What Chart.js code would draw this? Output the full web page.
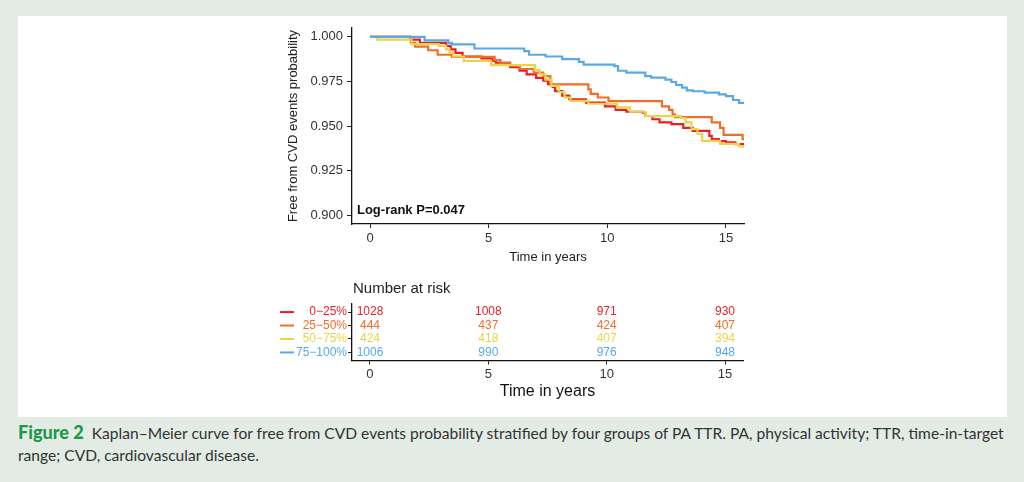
<!DOCTYPE html>
<html>
<head>
<meta charset="utf-8">
<script src="https://cdn.jsdelivr.net/npm/chart.js@4.4.1/dist/chart.umd.min.js"></script>
<style>
  html, body { margin: 0; padding: 0; }
  body { width: 1024px; height: 482px; background: #e3ece4; position: relative; overflow: hidden; }
  #panel { position: absolute; left: 18px; top: 16px; width: 989px; height: 401px; background: #fff; }
  #kmWrap { position: absolute; left: 280px; top: 20px; width: 470px; height: 250px; }
  #riskWrap { position: absolute; left: 270px; top: 278px; width: 480px; height: 128px; }
  #caption { position: absolute; left: 18px; top: 421px; width: 989px; font-family: Lato, "Open Sans", sans-serif; color: #333; font-size: 15px; }
  .line { white-space: nowrap; line-height: 22px; }
  .line span.inner { display: inline-block; }
  .fig { color: #1c9a4a; font-weight: 900; font-size: 1.16em; }
</style>
</head>
<body>
<div id="panel"></div>
<div id="kmWrap"><canvas id="km"></canvas></div>
<div id="riskWrap"><canvas id="risk"></canvas></div>
<div id="caption">
  <div class="line"><span class="inner" id="cap1"><span class="fig">Figure 2</span>&nbsp; Kaplan–Meier curve for free from CVD events probability stratified by four groups of PA TTR. PA, physical activity; TTR, time-in-target</span></div>
  <div class="line"><span class="inner">range; CVD, cardiovascular disease.</span></div>
</div>
<script>
// groups
const groupLabels = ['0−25%', '25−50%', '50−75%', '75−100%'];
const groupColors = ['#ee1d23', '#f36c2a', '#e6d64c', '#5ba9e2'];

// Kaplan-Meier steps (years, survival)
const timeQ1 = [0, 1.7, 2.1, 3.2, 3.4, 3.6, 3.9, 4.7, 5.15, 5.3, 5.9, 6.3, 6.6, 7.0, 7.3, 7.5, 7.7, 7.8, 8.1, 8.4, 9.1, 9.9, 10.35, 10.8, 11.5, 11.6, 11.9, 12.2, 12.7, 13.2, 13.6, 14.3, 14.4, 14.7, 15.0, 15.4, 15.8];
const survQ1 = [1.000, 0.9985, 0.9967, 0.995, 0.993, 0.991, 0.989, 0.988, 0.9865, 0.9855, 0.983, 0.981, 0.979, 0.977, 0.9755, 0.9735, 0.972, 0.9696, 0.967, 0.965, 0.9631, 0.961, 0.959, 0.958, 0.9575, 0.9556, 0.9538, 0.952, 0.9511, 0.949, 0.9473, 0.9445, 0.9426, 0.9415, 0.9408, 0.9398, 0.9388];

const timeQ2 = [0, 1.72, 1.9, 2.45, 2.85, 3.45, 5.25, 5.5, 5.9, 6.3, 6.9, 7.3, 7.6, 9.2, 9.3, 9.6, 10.05, 12.3, 12.6, 12.75, 12.85, 14.4, 14.75, 14.9, 15.7, 15.8];
const survQ2 = [1.000, 0.9966, 0.9945, 0.9925, 0.990, 0.9888, 0.987, 0.9855, 0.984, 0.982, 0.980, 0.978, 0.9734, 0.9706, 0.968, 0.966, 0.964, 0.961, 0.959, 0.9566, 0.955, 0.952, 0.949, 0.945, 0.9426, 0.9426];

const timeQ3 = [0, 0.3, 1.75, 2.9, 3.2, 3.35, 3.5, 3.95, 5.1, 6.95, 7.15, 7.4, 7.65, 7.95, 8.2, 8.45, 9.2, 10.4, 10.95, 11.6, 13.1, 13.3, 13.55, 13.8, 14.0, 14.75, 15.55, 15.8];
const survQ3 = [1.000, 0.9985, 0.996, 0.995, 0.993, 0.991, 0.989, 0.9865, 0.9842, 0.9815, 0.979, 0.976, 0.9725, 0.969, 0.966, 0.9641, 0.9625, 0.9605, 0.958, 0.9555, 0.9545, 0.952, 0.9482, 0.9455, 0.9417, 0.940, 0.9385, 0.9385];

const timeQ4 = [0, 2.3, 3.3, 3.45, 4.4, 6.5, 6.7, 7.4, 8.1, 8.8, 9.0, 10.3, 10.45, 10.8, 11.6, 11.85, 12.45, 12.7, 12.9, 13.15, 13.35, 13.6, 14.1, 14.7, 15.0, 15.3, 15.55, 15.8];
const survQ4 = [1.000, 0.998, 0.9967, 0.9958, 0.9935, 0.992, 0.990, 0.989, 0.9875, 0.986, 0.9845, 0.9836, 0.981, 0.980, 0.978, 0.9771, 0.976, 0.9747, 0.973, 0.9715, 0.970, 0.9695, 0.9687, 0.9678, 0.9668, 0.9646, 0.963, 0.962];

// number at risk
const riskTimes = [0, 5, 10, 15];
const riskQ1 = [1028, 1008, 971, 930];
const riskQ2 = [444, 437, 424, 407];
const riskQ3 = [424, 418, 407, 394];
const riskQ4 = [1006, 990, 976, 948];

const xTicks = [0, 5, 10, 15];
const yTicks = [0.900, 0.925, 0.950, 0.975, 1.000];
const pValueText = 'Log-rank P=0.047';

const FAM = '"Liberation Sans", Arial, Helvetica, sans-serif';
const times = [timeQ1, timeQ2, timeQ3, timeQ4];
const survs = [survQ1, survQ2, survQ3, survQ4];
const risks = [riskQ1, riskQ2, riskQ3, riskQ4];

const pvalPlugin = {
    id: 'pval',
    afterDraw(chart) {
        const ctx = chart.ctx;
        const xs = chart.scales.x, ys = chart.scales.y;
        ctx.save();
        ctx.font = 'bold 13px ' + FAM;
        ctx.fillStyle = '#111';
        ctx.textAlign = 'left';
        ctx.textBaseline = 'middle';
        ctx.fillText(pValueText, xs.getPixelForValue(-0.55), ys.getPixelForValue(0.9025));
        ctx.restore();
    }
};

new Chart(document.getElementById('km'), {
    type: 'line',
    data: {
        datasets: groupLabels.map((name, g) => ({
            label: name,
            data: times[g].map((t, i) => ({ x: t, y: survs[g][i] })),
            borderColor: groupColors[g],
            borderWidth: 2.2,
            stepped: true,
            pointRadius: 0,
            fill: false
        })).reverse()
    },
    options: {
        animation: false,
        responsive: true,
        maintainAspectRatio: false,
        layout: { padding: { left: 0, right: 6, top: 8, bottom: 0 } },
        plugins: { legend: { display: false }, tooltip: { enabled: false } },
        scales: {
            x: {
                type: 'linear', min: -0.76, max: 15.76,
                afterBuildTicks: s => { s.ticks = xTicks.map(v => ({ value: v })); },
                afterFit: s => { s.height = 46; },
                grid: { display: true, drawOnChartArea: false, drawTicks: true, tickLength: 4, color: '#222' },
                border: { display: true, color: '#111', width: 1.3 },
                ticks: { color: '#333', font: { size: 13, family: FAM }, padding: 3, maxRotation: 0 },
                title: { display: true, text: 'Time in years', color: '#222', font: { size: 13, family: FAM }, padding: { top: 0, bottom: 5 } }
            },
            y: {
                type: 'linear', min: 0.895, max: 1.005,
                afterBuildTicks: s => { s.ticks = yTicks.map(v => ({ value: v })); },
                afterFit: s => { s.width = 72; s.paddingTop = 0; s.paddingBottom = 0; },
                grid: { display: true, drawOnChartArea: false, drawTicks: true, tickLength: 5, color: '#222' },
                border: { display: true, color: '#111', width: 1.3 },
                ticks: { color: '#333', font: { size: 13, family: FAM }, padding: 4, callback: v => v.toFixed(3) },
                title: { display: true, text: 'Free from CVD events probability', color: '#222', font: { size: 13, family: FAM }, padding: { top: 6, bottom: 0 } }
            }
        }
    },
    plugins: [pvalPlugin]
});

// risk table: numbers placed on invisible points
const riskTextPlugin = {
    id: 'riskText',
    afterDatasetsDraw(chart) {
        const ctx = chart.ctx;
        const ys = chart.scales.y;
        ctx.save();
        ctx.font = '12px ' + FAM;
        ctx.textAlign = 'center';
        ctx.textBaseline = 'middle';
        chart.data.datasets.forEach((ds, di) => {
            const meta = chart.getDatasetMeta(di);
            ctx.fillStyle = ds.borderColor;
            meta.data.forEach((pt, i) => ctx.fillText(String(ds.data[i].n), pt.x, pt.y));
        });
        // legend keys next to the row labels
        groupLabels.forEach((name, g) => {
            const y = ys.getPixelForValue(g);
            ctx.strokeStyle = groupColors[g];
            ctx.lineWidth = 2;
            ctx.beginPath();
            ctx.moveTo(10, y);
            ctx.lineTo(24, y);
            ctx.stroke();
        });
        ctx.fillStyle = '#222';
        ctx.font = '15px ' + FAM;
        ctx.textAlign = 'left';
        ctx.fillText('Number at risk', chart.chartArea.left + 1, 11);
        ctx.restore();
    }
};

new Chart(document.getElementById('risk'), {
    type: 'scatter',
    data: {
        datasets: groupLabels.map((name, g) => ({
            label: name,
            data: riskTimes.map((t, i) => ({ x: t, y: g, n: risks[g][i] })),
            borderColor: groupColors[g],
            pointRadius: 0,
            showLine: false
        }))
    },
    options: {
        animation: false,
        responsive: true,
        maintainAspectRatio: false,
        layout: { padding: { left: 0, right: 7, top: 26, bottom: 0 } },
        plugins: { legend: { display: false }, tooltip: { enabled: false } },
        scales: {
            x: {
                type: 'linear', min: -0.76, max: 15.76,
                afterBuildTicks: s => { s.ticks = xTicks.map(v => ({ value: v })); },
                afterFit: s => { s.height = 45.5; },
                grid: { display: true, drawOnChartArea: false, drawTicks: true, tickLength: 4, color: '#222' },
                border: { display: true, color: '#111', width: 1.3 },
                ticks: { color: '#333', font: { size: 13, family: FAM }, padding: 2, maxRotation: 0 },
                title: { display: true, text: 'Time in years', color: '#111', font: { size: 16, family: FAM }, padding: { top: 0, bottom: 5 } }
            },
            y: {
                type: 'linear', min: -0.6, max: 3.6, reverse: true,
                afterBuildTicks: s => { s.ticks = groupLabels.map((n, i) => ({ value: i })); },
                afterFit: s => { s.width = 82; },
                grid: { display: true, drawOnChartArea: false, drawTicks: true, tickLength: 4, color: '#222' },
                border: { display: true, color: '#111', width: 1.3 },
                ticks: {
                    font: { size: 12, family: FAM }, padding: 1,
                    color: c => groupColors[c.index],
                    callback: (v, i) => groupLabels[i]
                }
            }
        }
    },
    plugins: [riskTextPlugin]
});

// fit caption first line to the panel width
const cap = document.getElementById('caption');
const cap1 = document.getElementById('cap1');
const w = cap1.getBoundingClientRect().width;
cap.style.fontSize = (15 * 986 / w).toFixed(2) + 'px';
</script>
</body>
</html>
